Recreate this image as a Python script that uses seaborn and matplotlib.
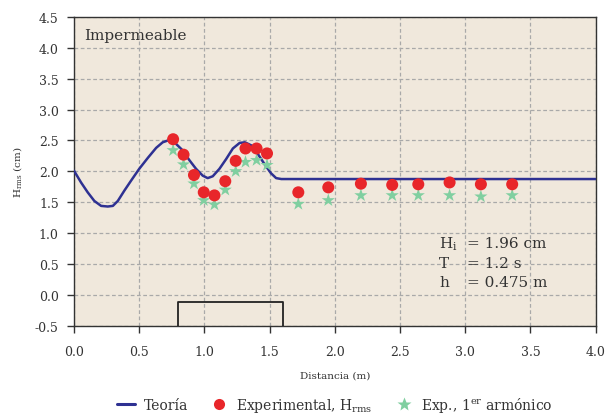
import matplotlib
matplotlib.use("Agg")
import matplotlib.pyplot as plt
import seaborn as sns
import pandas as pd
from matplotlib.lines import Line2D

# ---- data ----
theory_x = [0.0, 0.054, 0.105, 0.156, 0.208, 0.259, 0.298, 0.336, 0.387, 0.438,
            0.50, 0.567, 0.63, 0.68, 0.72, 0.75, 0.78, 0.833, 0.885, 0.936,
            0.987, 1.025, 1.064, 1.115, 1.167, 1.218, 1.27, 1.31, 1.36, 1.41,
            1.46, 1.51, 1.55, 1.59, 2.0, 3.0, 4.0]
theory_y = [2.01, 1.82, 1.66, 1.52, 1.44, 1.43, 1.44, 1.52, 1.69, 1.85,
            2.04, 2.22, 2.38, 2.47, 2.50, 2.49, 2.45, 2.34, 2.18, 2.04,
            1.93, 1.89, 1.92, 2.04, 2.20, 2.37, 2.46, 2.47, 2.42, 2.28,
            2.12, 1.97, 1.89, 1.875, 1.875, 1.875, 1.875]

exp_x = [0.76, 0.84, 0.92, 0.995, 1.077, 1.16, 1.24, 1.315, 1.40, 1.48,
         1.72, 1.95, 2.20, 2.44, 2.64, 2.88, 3.12, 3.36]
exp_hrms = [2.52, 2.27, 1.94, 1.66, 1.61, 1.84, 2.17, 2.37, 2.37, 2.29,
            1.66, 1.74, 1.80, 1.78, 1.79, 1.82, 1.79, 1.79]
exp_h1 = [2.34, 2.11, 1.80, 1.53, 1.46, 1.70, 2.00, 2.15, 2.18, 2.10,
          1.47, 1.53, 1.61, 1.61, 1.61, 1.61, 1.59, 1.61]

breakwater_x = [0.8, 0.8, 1.6, 1.6]
breakwater_y = [-0.5, -0.12, -0.12, -0.5]

x_ticks = [0.0, 0.5, 1.0, 1.5, 2.0, 2.5, 3.0, 3.5, 4.0]
y_ticks = [-0.5, 0.0, 0.5, 1.0, 1.5, 2.0, 2.5, 3.0, 3.5, 4.0, 4.5]

# ---- style ----
sns.set_theme(style="ticks")
plt.rcParams['font.family'] = ['DejaVu Serif']
plt.rcParams['mathtext.fontset'] = 'dejavuserif'

navy = "#2e3192"
red = "#e8262a"
green = "#80cfa0"
bg = "#f0e8dc"
txt = "#333333"

fig = plt.figure(figsize=(6.08, 4.14), dpi=100)
ax = fig.add_axes([0.1217, 0.211, 0.858, 0.7455])
ax.set_facecolor(bg)

df_t = pd.DataFrame({"x": theory_x, "y": theory_y})
df_e = pd.DataFrame({"x": exp_x, "hrms": exp_hrms, "h1": exp_h1})

sns.lineplot(data=df_t, x="x", y="y", ax=ax, color=navy, linewidth=1.8,
             sort=False, zorder=3)
ax.lines[-1].set_solid_joinstyle("round")
sns.scatterplot(data=df_e, x="x", y="h1", ax=ax, color=green, marker="*",
                s=100, edgecolor="none", zorder=4)
sns.scatterplot(data=df_e, x="x", y="hrms", ax=ax, color=red, marker="o",
                s=75, edgecolor="none", zorder=5)
ax.plot(breakwater_x, breakwater_y, color="#222222", linewidth=1.3, zorder=3)

ax.set_xlim(0, 4.0)
ax.set_ylim(-0.5, 4.5)
ax.set_xticks(x_ticks)
ax.set_yticks(y_ticks)
ax.set_xticklabels([f"{v:.1f}" for v in x_ticks])
ax.set_yticklabels([f"{v:.1f}" for v in y_ticks])
ax.grid(True, color="#a9a9a9", linestyle=(0, (3, 2)), linewidth=0.9)
ax.set_axisbelow(True)
ax.tick_params(direction="out", length=5, width=1.0, colors="#333333",
               labelsize=9, labelcolor=txt, pad=6)
ax.tick_params(axis="x", pad=9)
for s in ax.spines.values():
    s.set_color("#333333")
    s.set_linewidth(1.0)

ax.set_xlabel("Distancia (m)", fontsize=7.5, color=txt, labelpad=9)
ax.set_ylabel(r"H$_\mathrm{rms}$ (cm)", fontsize=7.5, color=txt, labelpad=8)

ax.text(0.02, 0.965, "Impermeable", transform=ax.transAxes, fontsize=11,
        color=txt, va="top", ha="left")

lines_l = [r"H$_\mathrm{i}$", "T", "h"]
lines_r = ["= 1.96 cm", "= 1.2 s", "= 0.475 m"]
for i, (a, b) in enumerate(zip(lines_l, lines_r)):
    yy = 0.267 - i * 0.063
    ax.text(0.700, yy, a, transform=ax.transAxes, fontsize=11, color=txt,
            va="center", ha="left")
    ax.text(0.753, yy, b, transform=ax.transAxes, fontsize=11, color=txt,
            va="center", ha="left")

handles = [
    Line2D([], [], color=navy, linewidth=2.2),
    Line2D([], [], color=red, marker="o", linestyle="none", markersize=8,
           markeredgecolor="none"),
    Line2D([], [], color=green, marker="*", linestyle="none", markersize=10,
           markeredgecolor="none"),
]
labels = ["Teoría", r"Experimental, H$_\mathrm{rms}$",
          r"Exp., 1$^\mathrm{er}$ armónico"]
leg = ax.legend(handles, labels, loc="center", bbox_to_anchor=(0.5, -0.255),
                ncol=3, frameon=False, fontsize=10, handlelength=1.3,
                columnspacing=1.6, handletextpad=0.6)
for t in leg.get_texts():
    t.set_color(txt)

fig.savefig("out.png", dpi=100, facecolor="white")
